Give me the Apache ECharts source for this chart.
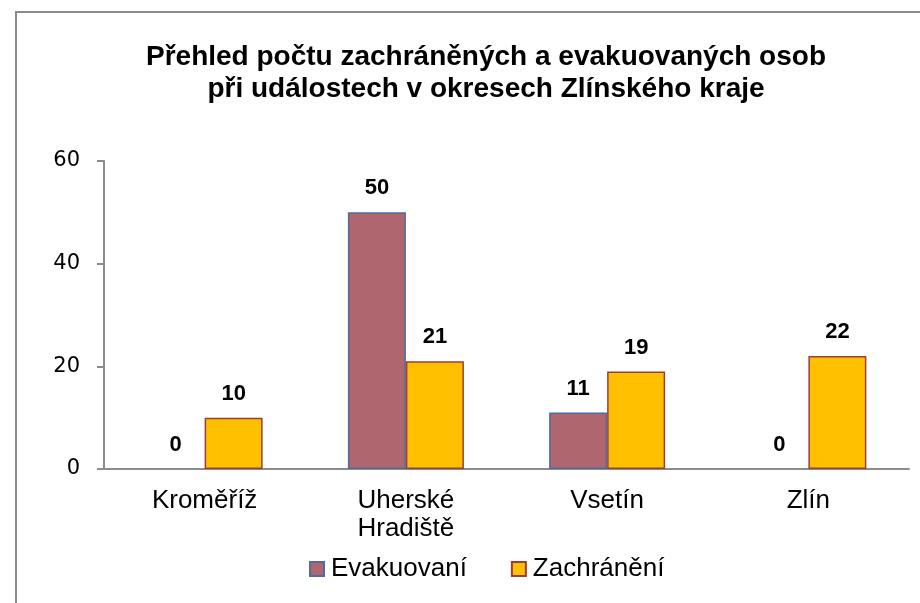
<!DOCTYPE html>
<html>
<head>
<meta charset="utf-8">
<script src="https://cdn.jsdelivr.net/npm/echarts@6/dist/echarts.min.js"></script>
<style>
  html, body { margin: 0; padding: 0; background: #fff; }
  #frame {
    position: absolute; left: 15px; top: 11px; width: 1000px; height: 700px;
    border-left: 2px solid #8a8a8a; border-top: 2px solid #8a8a8a;
  }
  #chart { position: absolute; left: 0; top: 0; width: 920px; height: 603px; }
</style>
</head>
<body>
<div id="frame"></div>
<div id="chart"></div>
<script>
// okresy
const districts = ['Kroměříž', 'Uherské\nHradiště', 'Vsetín', 'Zlín'];
const evacuated = [0, 50, 11, 0];
const rescued = [10, 21, 19, 22];
const yTicks = { min: 0, max: 60, step: 20 };

const chart = echarts.init(document.getElementById('chart'));

const labelStyle = {
  show: true,
  position: 'top',
  distance: 13,
  color: '#000',
  fontFamily: 'Liberation Sans',
  fontWeight: 'bold',
  fontSize: 22
};

// nulove sloupce bez okraje
function toItems(arr) {
  return arr.map(v => v === 0 ? { value: v, itemStyle: { borderWidth: 0 } } : v);
}

chart.setOption({
  animation: false,
  title: {
    text: 'Přehled počtu zachráněných a evakuovaných osob\npři událostech v okresech Zlínského kraje',
    left: 481,
    top: 36,
    textAlign: 'center',
    textStyle: {
      fontFamily: 'Liberation Sans',
      fontWeight: 'bold',
      fontSize: 28,
      lineHeight: 32,
      color: '#000'
    }
  },
  legend: {
    left: 309,
    top: 556,
    padding: 0,
    icon: 'rect',
    itemWidth: 14,
    itemHeight: 14,
    itemGap: 44,
    textStyle: {
      fontFamily: 'Liberation Sans',
      fontSize: 26,
      color: '#000',
      padding: [0, 0, 0, 2]
    },
    data: ['Evakuovaní', 'Zachránění']
  },
  grid: { left: 104, right: 11, top: 161, bottom: 134 },
  xAxis: {
    type: 'category',
    data: districts,
    axisLine: { lineStyle: { color: '#8c8c8c', width: 2 } },
    axisTick: { length: 7, lineStyle: { color: '#8c8c8c', width: 2 } },
    axisLabel: {
      color: '#000',
      fontFamily: 'Liberation Sans',
      fontSize: 26,
      lineHeight: 28,
      margin: 18,
      interval: 0
    }
  },
  yAxis: {
    type: 'value',
    min: yTicks.min,
    max: yTicks.max,
    interval: yTicks.step,
    splitLine: { show: false },
    axisLine: { show: true, lineStyle: { color: '#8c8c8c', width: 2 } },
    axisTick: { show: true, length: 7, lineStyle: { color: '#8c8c8c', width: 2 } },
    axisLabel: {
      color: '#000',
      fontFamily: 'DejaVu Sans',
      fontSize: 21,
      margin: 24
    }
  },
  series: [
    {
      name: 'Evakuovaní',
      type: 'bar',
      data: toItems(evacuated),
      barWidth: 58,
      barGap: '0%',
      itemStyle: { color: '#b0666f', borderColor: '#4f6c9c', borderWidth: 1.5 },
      label: labelStyle
    },
    {
      name: 'Zachránění',
      type: 'bar',
      data: toItems(rescued),
      barWidth: 58,
      barGap: '0%',
      itemStyle: { color: '#ffc000', borderColor: '#9c3d3a', borderWidth: 1.5 },
      label: labelStyle
    }
  ]
});
</script>
</body>
</html>
